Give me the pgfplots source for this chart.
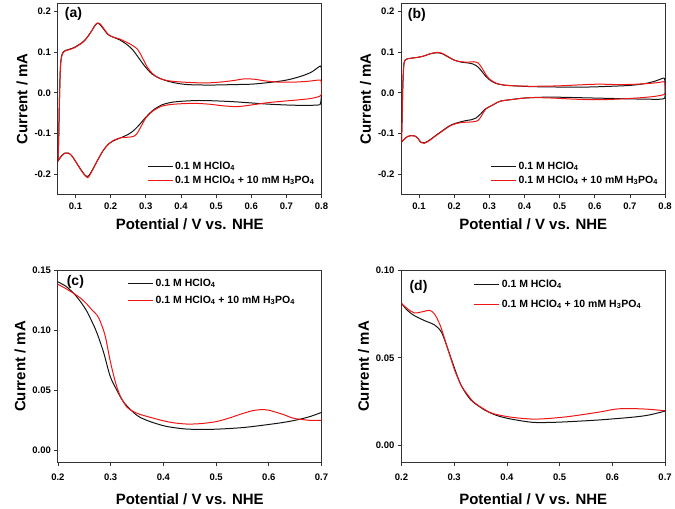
\documentclass[border=0pt]{standalone}
\usepackage{fontspec}
\setmainfont{Liberation Sans}
\usepackage{pgfplots}
\pgfplotsset{compat=1.18}
\definecolor{myred}{RGB}{240,20,20}
\definecolor{myblk}{RGB}{20,20,20}
\pgfplotsset{
  panel/.style={
    scale only axis, width=264pt, height=192pt,
    axis line style={draw=black!80, line width=0.9pt},
    tick align=outside, xtick pos=bottom, ytick pos=left,
    major tick length=3.5pt,
    every tick/.style={black!80, line width=0.8pt},
    /pgf/number format/assume math mode=true,
    ticklabel style={font=\bfseries\fontsize{9.5}{10}\selectfont},
    label style={font=\bfseries\fontsize{15}{17}\selectfont},
    xlabel={Potential / V vs. NHE},
    ylabel={Current / mA},
    legend cell align=left,
    legend style={draw=none, fill=none, font=\bfseries\fontsize{10.5}{12}\selectfont, row sep=1pt, inner sep=1pt},
    legend image code/.code={\draw[##1, line width=1pt] (0pt,0pt) -- (25pt,0pt);},
  },
  blk/.style={myblk, line width=1pt, smooth, no markers},
  rd/.style={myred, line width=1pt, smooth, no markers},
}
\begin{document}
\begin{tikzpicture}
\path (0pt,0pt) rectangle (675pt,-504pt);
% ---------------- (a)
\begin{axis}[panel, at={(58pt,-3pt)}, anchor=north west,
  xmin=0.05, xmax=0.8, ymin=-0.25, ymax=0.22,
  xtick={0.1,0.2,...,0.8}, ytick={-0.2,-0.1,0,0.1,0.2},
  xticklabel shift=1.5pt, xlabel shift=2pt,
  xticklabel style={/pgf/number format/.cd, fixed, precision=1, zerofill},
  yticklabel style={/pgf/number format/.cd, fixed, precision=1, zerofill},
  legend style={at={(0.985,0.035)}, anchor=south east}]
\addplot[blk] coordinates {(0.050,-0.168) (0.052,-0.12) (0.054,-0.03) (0.057,0.06) (0.061,0.092) (0.068,0.102) (0.08,0.106) (0.094,0.110) (0.11,0.118) (0.123,0.126) (0.135,0.138) (0.147,0.153) (0.155,0.164) (0.162,0.170) (0.170,0.167) (0.180,0.156) (0.192,0.143) (0.205,0.137) (0.225,0.130) (0.245,0.119) (0.262,0.106) (0.276,0.090) (0.291,0.072) (0.305,0.057) (0.318,0.046) (0.335,0.037) (0.36,0.029) (0.39,0.023) (0.42,0.020) (0.46,0.019) (0.50,0.019) (0.55,0.020) (0.60,0.021) (0.65,0.025) (0.70,0.031) (0.74,0.040) (0.77,0.050) (0.79,0.062) (0.797,0.066)};
\addlegendentry{0.1 M HClO\textsubscript{4}}
\addplot[rd] coordinates {(0.050,-0.168) (0.052,-0.12) (0.054,-0.03) (0.057,0.06) (0.061,0.090) (0.068,0.101) (0.08,0.105) (0.094,0.109) (0.11,0.117) (0.123,0.125) (0.135,0.137) (0.147,0.153) (0.155,0.165) (0.163,0.171) (0.171,0.168) (0.180,0.158) (0.192,0.144) (0.205,0.137) (0.225,0.132) (0.245,0.124) (0.262,0.116) (0.276,0.107) (0.286,0.093) (0.295,0.078) (0.305,0.062) (0.318,0.048) (0.335,0.037) (0.36,0.030) (0.39,0.027) (0.43,0.025) (0.47,0.024) (0.51,0.026) (0.55,0.030) (0.58,0.034) (0.61,0.033) (0.64,0.029) (0.68,0.026) (0.72,0.026) (0.76,0.028) (0.79,0.031) (0.798,0.031)};
\addlegendentry{0.1 M HClO\textsubscript{4} + 10 mM H\textsubscript{3}PO\textsubscript{4}}
\addplot[blk, forget plot] coordinates {(0.797,0.066) (0.800,0.055) (0.800,0.0) (0.797,-0.026) (0.79,-0.030) (0.75,-0.031) (0.70,-0.030) (0.65,-0.028) (0.60,-0.025) (0.55,-0.022) (0.50,-0.020) (0.45,-0.019) (0.40,-0.021) (0.37,-0.024) (0.345,-0.030) (0.325,-0.040) (0.31,-0.051) (0.295,-0.065) (0.28,-0.080) (0.265,-0.093) (0.25,-0.102) (0.23,-0.110) (0.21,-0.117) (0.195,-0.125) (0.18,-0.140) (0.165,-0.162) (0.15,-0.186) (0.14,-0.201) (0.133,-0.205) (0.125,-0.200) (0.115,-0.188) (0.10,-0.168) (0.09,-0.155) (0.08,-0.148) (0.07,-0.148) (0.06,-0.155) (0.05,-0.168)};
\addplot[rd, forget plot] coordinates {(0.798,0.031) (0.800,0.020) (0.800,-0.004) (0.79,-0.010) (0.77,-0.014) (0.74,-0.017) (0.70,-0.020) (0.65,-0.024) (0.60,-0.030) (0.56,-0.034) (0.52,-0.032) (0.48,-0.028) (0.44,-0.026) (0.40,-0.027) (0.37,-0.029) (0.345,-0.033) (0.32,-0.045) (0.30,-0.062) (0.285,-0.085) (0.275,-0.100) (0.265,-0.107) (0.25,-0.109) (0.23,-0.110) (0.21,-0.116) (0.195,-0.125) (0.18,-0.140) (0.165,-0.162) (0.15,-0.187) (0.14,-0.203) (0.135,-0.208) (0.127,-0.203) (0.115,-0.189) (0.10,-0.168) (0.09,-0.155) (0.08,-0.148) (0.07,-0.148) (0.06,-0.155) (0.05,-0.168)};
\node[anchor=north west, inner sep=0pt, font=\bfseries\fontsize{14}{16}\selectfont] at (rel axis cs:0.026,0.98) {(a)};
\end{axis}
% ---------------- (b)
\begin{axis}[panel, at={(402pt,-3pt)}, anchor=north west,
  xmin=0.05, xmax=0.8, ymin=-0.25, ymax=0.22,
  xtick={0.1,0.2,...,0.8}, ytick={-0.2,-0.1,0,0.1,0.2},
  xticklabel shift=1.5pt, xlabel shift=2pt,
  xticklabel style={/pgf/number format/.cd, fixed, precision=1, zerofill},
  yticklabel style={/pgf/number format/.cd, fixed, precision=1, zerofill},
  legend style={at={(0.985,0.035)}, anchor=south east}]
\addplot[blk] coordinates {(0.050,-0.121) (0.052,-0.06) (0.054,0.02) (0.057,0.070) (0.062,0.081) (0.072,0.084) (0.09,0.086) (0.11,0.089) (0.13,0.095) (0.150,0.098) (0.165,0.096) (0.18,0.089) (0.20,0.080) (0.22,0.075) (0.24,0.073) (0.255,0.070) (0.268,0.063) (0.28,0.051) (0.29,0.040) (0.30,0.032) (0.318,0.023) (0.34,0.019) (0.37,0.017) (0.42,0.015) (0.50,0.014) (0.58,0.014) (0.65,0.016) (0.70,0.018) (0.74,0.022) (0.77,0.028) (0.792,0.035) (0.798,0.036)};
\addlegendentry{0.1 M HClO\textsubscript{4}}
\addplot[rd] coordinates {(0.050,-0.121) (0.052,-0.06) (0.054,0.02) (0.057,0.070) (0.062,0.081) (0.072,0.084) (0.09,0.086) (0.11,0.089) (0.13,0.095) (0.150,0.099) (0.165,0.097) (0.18,0.090) (0.20,0.080) (0.22,0.076) (0.24,0.075) (0.255,0.076) (0.268,0.073) (0.278,0.062) (0.29,0.045) (0.30,0.034) (0.318,0.024) (0.34,0.019) (0.37,0.017) (0.40,0.016) (0.45,0.016) (0.50,0.017) (0.55,0.019) (0.61,0.021) (0.67,0.020) (0.72,0.021) (0.77,0.024) (0.795,0.027) (0.799,0.026)};
\addlegendentry{0.1 M HClO\textsubscript{4} + 10 mM H\textsubscript{3}PO\textsubscript{4}}
\addplot[blk, forget plot] coordinates {(0.798,0.036) (0.800,0.025) (0.800,-0.008) (0.795,-0.015) (0.77,-0.016) (0.70,-0.015) (0.60,-0.013) (0.50,-0.011) (0.45,-0.011) (0.40,-0.013) (0.36,-0.017) (0.33,-0.021) (0.31,-0.030) (0.29,-0.039) (0.275,-0.052) (0.262,-0.062) (0.25,-0.066) (0.235,-0.068) (0.22,-0.071) (0.20,-0.076) (0.185,-0.082) (0.165,-0.094) (0.147,-0.105) (0.13,-0.116) (0.115,-0.123) (0.105,-0.121) (0.097,-0.112) (0.088,-0.106) (0.078,-0.105) (0.068,-0.107) (0.058,-0.114) (0.050,-0.121)};
\addplot[rd, forget plot] coordinates {(0.799,0.026) (0.800,0.015) (0.800,-0.002) (0.79,-0.006) (0.76,-0.010) (0.70,-0.014) (0.62,-0.017) (0.55,-0.016) (0.48,-0.013) (0.43,-0.012) (0.40,-0.013) (0.36,-0.017) (0.33,-0.021) (0.31,-0.030) (0.29,-0.040) (0.278,-0.056) (0.268,-0.068) (0.255,-0.071) (0.24,-0.072) (0.22,-0.073) (0.20,-0.077) (0.185,-0.083) (0.165,-0.095) (0.147,-0.106) (0.13,-0.117) (0.115,-0.124) (0.105,-0.122) (0.097,-0.112) (0.088,-0.106) (0.078,-0.105) (0.068,-0.107) (0.058,-0.114) (0.050,-0.121)};
\node[anchor=north west, inner sep=0pt, font=\bfseries\fontsize{14}{16}\selectfont] at (rel axis cs:0.024,0.975) {(b)};
\end{axis}
% ---------------- (c)
\begin{axis}[panel, at={(58pt,-271pt)}, anchor=north west,
  xmin=0.2, xmax=0.7, ymin=-0.01, ymax=0.15,
  xtick={0.2,0.3,...,0.7}, ytick={0,0.05,0.10,0.15},
  xticklabel shift=4pt, xlabel shift=7pt,
  xticklabel style={/pgf/number format/.cd, fixed, precision=1, zerofill},
  yticklabel style={/pgf/number format/.cd, fixed, precision=2, zerofill},
  legend style={at={(0.26,0.975)}, anchor=north west, row sep=4pt}]
\addplot[blk] coordinates {(0.200,0.1406) (0.215,0.137) (0.230,0.131) (0.243,0.124) (0.255,0.116) (0.265,0.107) (0.274,0.098) (0.2865,0.082) (0.299,0.062) (0.312,0.050) (0.322,0.042) (0.331,0.037) (0.345,0.031) (0.356,0.0275) (0.375,0.024) (0.40,0.0206) (0.42,0.019) (0.444,0.0178) (0.47,0.0175) (0.501,0.0177) (0.55,0.019) (0.596,0.0214) (0.63,0.0235) (0.659,0.026) (0.68,0.0285) (0.70,0.0317)};
\addlegendentry{0.1 M HClO\textsubscript{4}}
\addplot[rd] coordinates {(0.200,0.1386) (0.215,0.135) (0.230,0.131) (0.243,0.127) (0.255,0.122) (0.265,0.117) (0.274,0.113) (0.280,0.108) (0.2896,0.0956) (0.299,0.075) (0.309,0.057) (0.318,0.0456) (0.331,0.036) (0.345,0.032) (0.356,0.030) (0.38,0.027) (0.40,0.0247) (0.42,0.023) (0.444,0.022) (0.47,0.0223) (0.50,0.024) (0.525,0.027) (0.545,0.030) (0.568,0.033) (0.585,0.034) (0.60,0.0335) (0.627,0.030) (0.645,0.027) (0.659,0.026) (0.68,0.025) (0.70,0.025)};
\addlegendentry{0.1 M HClO\textsubscript{4} + 10 mM H\textsubscript{3}PO\textsubscript{4}}
\node[anchor=north west, inner sep=0pt, font=\bfseries\fontsize{14}{16}\selectfont] at (rel axis cs:0.033,0.975) {(c)};
\end{axis}
% ---------------- (d)
\begin{axis}[panel, at={(402pt,-271pt)}, anchor=north west,
  xmin=0.2, xmax=0.7, ymin=-0.01, ymax=0.10,
  xtick={0.2,0.3,...,0.7}, ytick={0,0.05,0.10},
  xticklabel shift=4pt, xlabel shift=7pt,
  xticklabel style={/pgf/number format/.cd, fixed, precision=1, zerofill},
  yticklabel style={/pgf/number format/.cd, fixed, precision=2, zerofill},
  legend style={at={(0.27,0.97)}, anchor=north west, row sep=7pt}]
\addplot[blk] coordinates {(0.200,0.0812) (0.212,0.077) (0.225,0.0741) (0.244,0.0713) (0.263,0.0688) (0.276,0.0646) (0.288,0.055) (0.301,0.0437) (0.3135,0.034) (0.332,0.0257) (0.358,0.020) (0.38,0.017) (0.402,0.0152) (0.43,0.0137) (0.452,0.0129) (0.48,0.0129) (0.515,0.0133) (0.578,0.0144) (0.641,0.016) (0.67,0.0172) (0.70,0.0194)};
\addlegendentry{0.1 M HClO\textsubscript{4}}
\addplot[rd] coordinates {(0.200,0.0812) (0.212,0.0780) (0.225,0.0757) (0.241,0.0765) (0.254,0.0772) (0.263,0.075) (0.270,0.071) (0.276,0.0665) (0.288,0.055) (0.301,0.0428) (0.3135,0.034) (0.325,0.029) (0.339,0.0241) (0.37,0.0184) (0.402,0.0162) (0.43,0.0152) (0.452,0.0148) (0.48,0.0152) (0.515,0.0162) (0.55,0.0177) (0.578,0.019) (0.605,0.0205) (0.629,0.0209) (0.667,0.0205) (0.70,0.0196)};
\addlegendentry{0.1 M HClO\textsubscript{4} + 10 mM H\textsubscript{3}PO\textsubscript{4}}
\node[anchor=north west, inner sep=0pt, font=\bfseries\fontsize{14}{16}\selectfont] at (rel axis cs:0.03,0.95) {(d)};
\end{axis}
\end{tikzpicture}
\end{document}
